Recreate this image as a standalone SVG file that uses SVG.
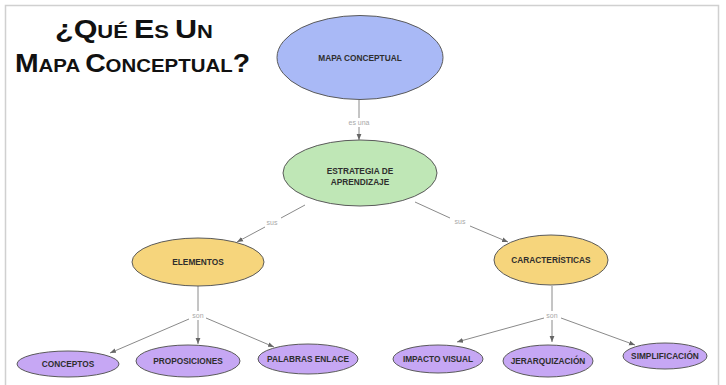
<svg xmlns="http://www.w3.org/2000/svg" width="726" height="385" viewBox="0 0 726 385">
<style>
.node{stroke:#5a5a5a;stroke-width:1}
.blue{fill:#a9b9f6}
.green{fill:#bfe7b6}
.yellow{fill:#f6d57c}
.purple{fill:#c6a7f4}
.lbl{font-family:"Liberation Sans",Arial,sans-serif;font-size:8.3px;font-weight:bold;fill:#2e2e2e;text-anchor:middle}
.link{font-family:"Liberation Sans",Arial,sans-serif;font-size:7px;fill:#a8a8a8;text-anchor:middle}
.conn{stroke:#8a8a8a;stroke-width:1;fill:none}
.title{font-family:"Liberation Sans",Arial,sans-serif;font-weight:bold;fill:#111}
</style>
<defs>
<marker id="ah" viewBox="0 0 10 10" refX="10" refY="5" markerWidth="6" markerHeight="6" orient="auto" markerUnits="userSpaceOnUse">
<path d="M0,1 L10,5 L0,9 z" fill="#666"/>
</marker>
</defs>
<rect x="0" y="0" width="726" height="385" fill="#ffffff"/>
<path d="M5.5,390 V5.5 H718.5 V390" fill="none" stroke="#d0d0d0" stroke-width="1.5"/>
<g id="title">
<text class="title" x="55" y="38" textLength="158" lengthAdjust="spacingAndGlyphs"><tspan font-size="25">¿Q</tspan><tspan font-size="18">UÉ </tspan><tspan font-size="25">E</tspan><tspan font-size="18">S </tspan><tspan font-size="25">U</tspan><tspan font-size="18">N</tspan></text>
<text class="title" x="15" y="72" textLength="235" lengthAdjust="spacingAndGlyphs"><tspan font-size="25">M</tspan><tspan font-size="18">APA </tspan><tspan font-size="25">C</tspan><tspan font-size="18">ONCEPTUAL</tspan><tspan font-size="25">?</tspan></text>
</g>
<g id="connectors">
<line class="conn" x1="359" y1="100" x2="359" y2="118"/>
<line class="conn" x1="359" y1="127" x2="359" y2="140" marker-end="url(#ah)"/>
<text class="link" x="359" y="125">es una</text>
<line class="conn" x1="305" y1="205" x2="281" y2="218"/>
<line class="conn" x1="265" y1="227" x2="237" y2="242" marker-end="url(#ah)"/>
<text class="link" x="272" y="225">sus</text>
<line class="conn" x1="415" y1="202" x2="450" y2="218"/>
<line class="conn" x1="470" y1="226" x2="508" y2="242" marker-end="url(#ah)"/>
<text class="link" x="460" y="224">sus</text>
<line class="conn" x1="198" y1="286" x2="198" y2="311"/>
<text class="link" x="198" y="318">son</text>
<line class="conn" x1="189" y1="319" x2="110" y2="353" marker-end="url(#ah)"/>
<line class="conn" x1="198" y1="320" x2="198" y2="344" marker-end="url(#ah)"/>
<line class="conn" x1="206" y1="318" x2="274" y2="347" marker-end="url(#ah)"/>
<line class="conn" x1="552" y1="286" x2="552" y2="311"/>
<text class="link" x="552" y="318">son</text>
<line class="conn" x1="544" y1="318" x2="457" y2="342" marker-end="url(#ah)"/>
<line class="conn" x1="552" y1="320" x2="552" y2="342" marker-end="url(#ah)"/>
<line class="conn" x1="561" y1="318" x2="635" y2="345" marker-end="url(#ah)"/>
</g>
<g id="mapa-conceptual">
<ellipse class="node blue" cx="360" cy="57.5" rx="83" ry="42"/>
<text class="lbl" x="360" y="61">MAPA CONCEPTUAL</text>
</g>
<g id="estrategia">
<ellipse class="node green" cx="360" cy="173" rx="77" ry="33"/>
<text class="lbl" x="360" y="174">ESTRATEGIA DE</text>
<text class="lbl" x="360" y="185">APRENDIZAJE</text>
</g>
<g id="elementos">
<ellipse class="node yellow" cx="198" cy="262" rx="66" ry="24"/>
<text class="lbl" x="198" y="265">ELEMENTOS</text>
</g>
<g id="caracteristicas">
<ellipse class="node yellow" cx="551" cy="260" rx="57" ry="25"/>
<text class="lbl" x="551" y="263">CARACTERÍSTICAS</text>
</g>
<g id="conceptos">
<ellipse class="node purple" cx="68" cy="364" rx="51" ry="13"/>
<text class="lbl" x="68" y="367">CONCEPTOS</text>
</g>
<g id="proposiciones">
<ellipse class="node purple" cx="188" cy="361" rx="52" ry="16"/>
<text class="lbl" x="188" y="364">PROPOSICIONES</text>
</g>
<g id="palabras-enlace">
<ellipse class="node purple" cx="308" cy="359" rx="50" ry="15"/>
<text class="lbl" x="308" y="362">PALABRAS ENLACE</text>
</g>
<g id="impacto-visual">
<ellipse class="node purple" cx="438" cy="359" rx="45" ry="14"/>
<text class="lbl" x="438" y="362">IMPACTO VISUAL</text>
</g>
<g id="jerarquizacion">
<ellipse class="node purple" cx="548" cy="361" rx="45" ry="16"/>
<text class="lbl" x="548" y="364">JERARQUIZACIÓN</text>
</g>
<g id="simplificacion">
<ellipse class="node purple" cx="665" cy="356" rx="42" ry="13"/>
<text class="lbl" x="665" y="359">SIMPLIFICACIÓN</text>
</g>
</svg>
